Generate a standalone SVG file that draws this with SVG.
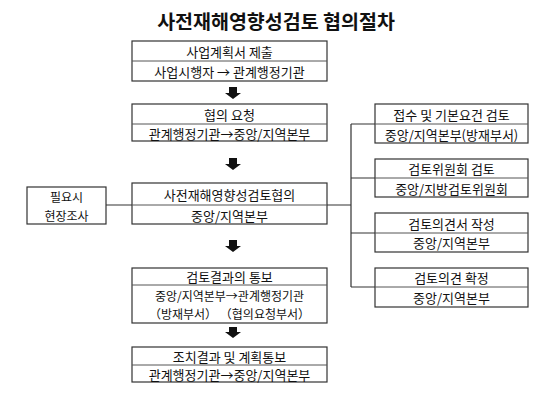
<svg xmlns="http://www.w3.org/2000/svg" width="550" height="400" viewBox="0 0 550 400">
<style>
.b{fill:#fff;stroke:#333;stroke-width:1.2}
.d{stroke:#555;stroke-width:1}
.c{fill:none;stroke:#333;stroke-width:1.2}
text{font-family:"Noto Sans CJK KR","Noto Sans",sans-serif;font-size:13px;fill:#111;text-anchor:middle;dominant-baseline:central}
.t{font-size:19.5px;font-weight:bold}
.s{font-size:12px}
.a{fill:#111}
</style>
<rect width="550" height="400" fill="#fff"/>
<text class="t" x="276" y="20">사전재해영향성검토 협의절차</text>
<g id="connectors">
<path class="c" d="M106 205H351M351 124V287M351 124H375M351 178H375M351 233H375M351 287H375"/>
<polygon class="a" points="229,87 237,87 237,93 241,93 233,99 225,93 229,93"/>
<polygon class="a" points="229,158 237,158 237,164 241,164 233,170 225,164 229,164"/>
<polygon class="a" points="229,240 237,240 237,246 241,246 233,252 225,246 229,246"/>
<polygon class="a" points="229,327 237,327 237,332 241,332 233,338 225,332 229,332"/>
</g>
<g id="n1"><rect class="b" x="132" y="41" width="195" height="40"/><line class="d" x1="132" y1="61" x2="327" y2="61"/>
<text x="229.5" y="51">사업계획서 제출</text><text x="229.5" y="71">사업시행자 → 관계행정기관</text></g>
<g id="n2"><rect class="b" x="132" y="104" width="195" height="37"/><line class="d" x1="132" y1="124" x2="327" y2="124"/>
<text x="229.5" y="114">협의 요청</text><text x="229.5" y="133">관계행정기관→중앙/지역본부</text></g>
<g id="n3"><rect class="b" x="132" y="183" width="195" height="41"/><line class="d" x1="132" y1="205" x2="327" y2="205"/>
<text x="229.5" y="194">사전재해영향성검토협의</text><text x="229.5" y="215">중앙/지역본부</text></g>
<g id="n0"><rect class="b" x="27" y="187" width="79" height="37"/>
<text class="s" x="66.5" y="196">필요시</text><text class="s" x="66.5" y="215">현장조사</text></g>
<g id="n4"><rect class="b" x="132" y="268" width="195" height="55"/><line class="d" x1="132" y1="285" x2="327" y2="285"/>
<text x="229.5" y="276">검토결과의 통보</text><text class="s" x="229.5" y="295">중앙/지역본부→관계행정기관</text><text class="s" x="229.5" y="313">（방재부서） （협의요청부서）</text></g>
<g id="n5"><rect class="b" x="132" y="347" width="195" height="35"/><line class="d" x1="132" y1="365" x2="327" y2="365"/>
<text x="229.5" y="356">조치결과 및 계획통보</text><text x="229.5" y="374">관계행정기관→중앙/지역본부</text></g>
<g id="r1"><rect class="b" x="375" y="104" width="153" height="39"/><line class="d" x1="375" y1="124" x2="528" y2="124"/>
<text x="451.5" y="114">접수 및 기본요건 검토</text><text x="451.5" y="134">중앙/지역본부(방재부서)</text></g>
<g id="r2"><rect class="b" x="375" y="159" width="153" height="38"/><line class="d" x1="375" y1="178" x2="528" y2="178"/>
<text x="451.5" y="168">검토위원회 검토</text><text x="451.5" y="188">중앙/지방검토위원회</text></g>
<g id="r3"><rect class="b" x="375" y="213" width="153" height="39"/><line class="d" x1="375" y1="233" x2="528" y2="233"/>
<text x="451.5" y="223">검토의견서 작성</text><text x="451.5" y="242">중앙/지역본부</text></g>
<g id="r4"><rect class="b" x="375" y="268" width="153" height="39"/><line class="d" x1="375" y1="287" x2="528" y2="287"/>
<text x="451.5" y="277">검토의견 확정</text><text x="451.5" y="297">중앙/지역본부</text></g>
</svg>
